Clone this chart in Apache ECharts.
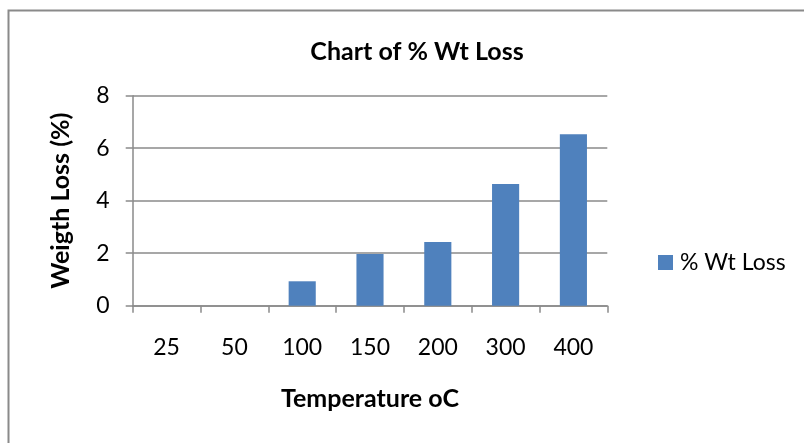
<!DOCTYPE html>
<html>
<head>
<meta charset="utf-8">
<script src="https://cdn.jsdelivr.net/npm/echarts@6/dist/echarts.min.js"></script>
<style>
html,body{margin:0;padding:0;background:#fff;}
#c{width:804px;height:443px;}
</style>
</head>
<body>
<div id="c"></div>
<script>
var categories = ['25', '50', '100', '150', '200', '300', '400'];
var wtLoss = [0, 0, 0.93, 1.97, 2.43, 4.64, 6.53];
var seriesName = '% Wt Loss';
var yTicks = { min: 0, max: 8, interval: 2 };

var font = 'Lato, "Open Sans", "Liberation Sans", sans-serif';
var chart = echarts.init(document.getElementById('c'), null, { renderer: 'canvas' });
chart.setOption({
  animation: false,
  backgroundColor: '#fff',
  textStyle: { fontFamily: font },
  graphic: [{
    type: 'rect',
    shape: { x: 8.5, y: 10.5, width: 820, height: 460 },
    style: { fill: 'none', stroke: '#8a8a8a', lineWidth: 2 },
    silent: true
  }],
  title: {
    text: 'Chart of % Wt Loss',
    left: 412, top: 34, textAlign: 'center',
    textStyle: { fontFamily: font, fontSize: 25, fontWeight: 'bold', color: '#000' }
  },
  legend: {
    data: [seriesName],
    left: 653, top: 246,
    itemWidth: 15, itemHeight: 15, itemGap: 8,
    icon: 'rect',
    textStyle: { fontFamily: font, fontSize: 23, color: '#000', padding: [0, 0, 0, 2] }
  },
  grid: { left: 132.7, right: 196.7, top: 95.7, bottom: 137.3, containLabel: false },
  xAxis: {
    type: 'category',
    data: categories,
    name: 'Temperature oC',
    nameLocation: 'middle',
    nameGap: 81,
    nameTextStyle: { fontFamily: font, fontSize: 25, fontWeight: 'bold', color: '#000' },
    axisLine: { lineStyle: { color: '#8a8a8a', width: 1.5 } },
    axisTick: { show: true, length: 7, lineStyle: { color: '#8a8a8a', width: 1.5 } },
    axisLabel: { fontFamily: font, fontSize: 23, color: '#000', margin: 30 },
    splitLine: { show: false }
  },
  yAxis: {
    type: 'value',
    min: yTicks.min, max: yTicks.max, interval: yTicks.interval,
    name: 'Weigth Loss (%)',
    nameLocation: 'middle',
    nameGap: 59,
    nameRotate: 90,
    nameTextStyle: { fontFamily: font, fontSize: 25, fontWeight: 'bold', color: '#000' },
    axisLine: { show: true, lineStyle: { color: '#8a8a8a', width: 1.5 } },
    axisTick: { show: true, length: 7, lineStyle: { color: '#8a8a8a', width: 1.5 } },
    axisLabel: { fontFamily: font, fontSize: 23, color: '#000', margin: 23 },
    splitLine: { show: true, lineStyle: { color: '#8a8a8a', width: 1.5 } }
  },
  series: [{
    name: seriesName,
    type: 'bar',
    data: wtLoss,
    barWidth: '40%',
    itemStyle: { color: '#4F81BD' }
  }]
});
</script>
</body>
</html>
